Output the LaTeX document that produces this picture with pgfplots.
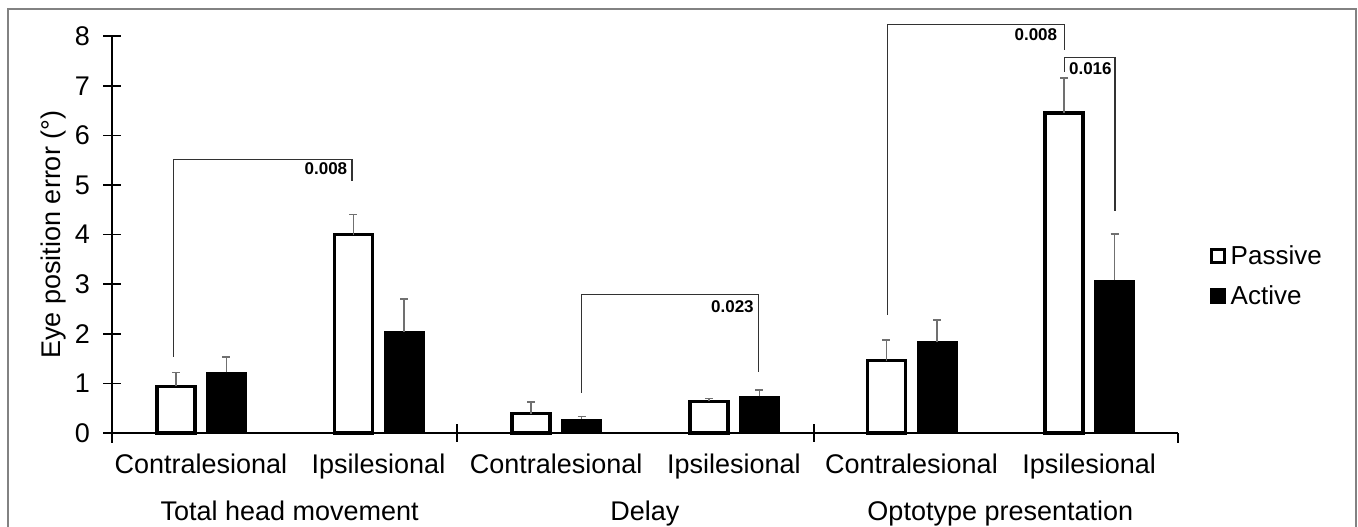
\documentclass[border=0pt]{standalone}
\usepackage{fontspec}
\setmainfont{Liberation Sans}
\usepackage{pgfplots}
\pgfplotsset{compat=1.18}
\definecolor{errgray}{RGB}{112,112,112}
\definecolor{framegray}{RGB}{130,130,130}
\definecolor{brk}{RGB}{50,50,50}
\newcommand\lf{\fontsize{27bp}{32bp}\selectfont}
\newcommand\pf{\fontsize{17bp}{20bp}\selectfont\bfseries}
\begin{document}
\begin{tikzpicture}
\useasboundingbox (0,0) rectangle (1358bp,-527bp);
\draw[framegray, line width=2bp] (7.5bp,-535bp) -- (7.5bp,-8.5bp) -- (1355.5bp,-8.5bp) -- (1355.5bp,-535bp);
\begin{axis}[
  at={(112bp,-433bp)}, anchor=south west,
  scale only axis, width=1066bp, height=396.8bp,
  xmin=-0.5, xmax=5.5, ymin=0, ymax=8,
  clip=false,
  axis line style={draw=none},
  tick pos=left,
  ytick={0,1,...,8},
  ytick align=center,
  major tick length=17bp,
  ytick style={line width=1.5bp, black},
  xtick={0,1,2,3,4,5},
  xtick style={draw=none},
  xtick align=inside,
  xticklabels={Contralesional,Ipsilesional,Contralesional,Ipsilesional,Contralesional,Ipsilesional},
  xticklabel style={font=\lf, anchor=base, yshift=-40bp},
  yticklabel style={font=\lf, anchor=east, xshift=-10bp},
  /pgf/number format/assume math mode=true,
  ylabel={Eye position error (°)},
  ylabel style={font=\lf, at={(axis description cs:-0.055,0.5)}, anchor=center},
  legend style={at={(axis description cs:1.0296,0.396)}, anchor=west, draw=none, fill=none,
    font=\fontsize{26bp}{30bp}\selectfont, row sep=18bp, inner sep=0pt,
    nodes={inner xsep=0bp, inner ysep=1bp}},
  legend cell align=left,
]
\addplot[ybar, bar width=38bp, bar shift=0bp, draw=black, fill=white, line width=3.5bp,
  error bars/.cd, y dir=plus, y explicit,
  error bar style={errgray, line width=1.5bp},
  error mark options={errgray, rotate=90, mark size=4bp, line width=1.5bp}]
  coordinates {(-0.1408,0.94) +- (0,0.28) (0.8592,4.00) +- (0,0.41) (1.8592,0.39) +- (0,0.24)
               (2.8592,0.64) +- (0,0.06) (3.8592,1.46) +- (0,0.415) (4.8592,6.45) +- (0,0.71)};
\addplot[ybar, bar width=40bp, bar shift=0bp, draw=black, fill=black, line width=1bp,
  error bars/.cd, y dir=plus, y explicit,
  error bar style={errgray, line width=1.5bp},
  error mark options={errgray, rotate=90, mark size=4bp, line width=1.5bp}]
  coordinates {(0.1436,1.22) +- (0,0.31) (1.1436,2.04) +- (0,0.66) (2.1436,0.28) +- (0,0.05)
               (3.1436,0.74) +- (0,0.13) (4.1436,1.84) +- (0,0.44) (5.1436,3.08) +- (0,0.93)};
\addlegendimage{legend image code/.code={\draw[black, fill=white, line width=3bp] (0bp,-6.5bp) rectangle (13bp,6.5bp);}}
\addlegendimage{legend image code/.code={\draw[black, fill=black, line width=3bp] (0bp,-6.5bp) rectangle (13bp,6.5bp);}}
\legend{,,\hspace{5bp}Passive,\hspace{5bp}Active}
% axis lines
\draw[black, line width=2bp] (axis cs:-0.5,0) -- (axis cs:5.5,0);
\draw[black, line width=2bp] (axis cs:-0.5,-0.2) -- (axis cs:-0.5,8);
\draw[black, line width=2bp] (axis cs:5.5,0) -- (axis cs:5.5,-0.2);
\draw[black, line width=2bp] (axis cs:1.444,0.18) -- (axis cs:1.444,-0.18);
\draw[black, line width=2bp] (axis cs:3.449,0.18) -- (axis cs:3.449,-0.18);
% group labels
\node[font=\lf, anchor=base, yshift=-87bp] at (axis cs:0.5,0) {Total head movement};
\node[font=\lf, anchor=base, yshift=-87bp] at (axis cs:2.5,0) {Delay};
\node[font=\lf, anchor=base, yshift=-87bp] at (axis cs:4.5,0) {Optotype presentation};
% significance brackets
\draw[brk, line width=1.2bp] (axis cs:-0.155,1.54) -- (axis cs:-0.155,5.52) -- (axis cs:0.851,5.52) -- (axis cs:0.851,5.09);
\node[font=\pf, anchor=east, inner sep=0pt] at (axis cs:0.825,5.32) {0.008};
\draw[brk, line width=1.2bp] (axis cs:2.141,0.81) -- (axis cs:2.141,2.80) -- (axis cs:3.141,2.80) -- (axis cs:3.141,1.24);
\node[font=\pf, anchor=east, inner sep=0pt] at (axis cs:3.113,2.55) {0.023};
\draw[brk, line width=1.2bp] (axis cs:3.867,2.38) -- (axis cs:3.867,8.24) -- (axis cs:4.862,8.24) -- (axis cs:4.862,7.72);
\node[font=\pf, anchor=east, inner sep=0pt] at (axis cs:4.821,8.04) {0.008};
\draw[brk, line width=1.2bp] (axis cs:4.862,7.28) -- (axis cs:4.862,7.57) -- (axis cs:5.146,7.57) -- (axis cs:5.146,4.48);
\node[font=\pf, anchor=west, inner sep=0pt] at (axis cs:4.886,7.35) {0.016};
\end{axis}
\end{tikzpicture}
\end{document}
